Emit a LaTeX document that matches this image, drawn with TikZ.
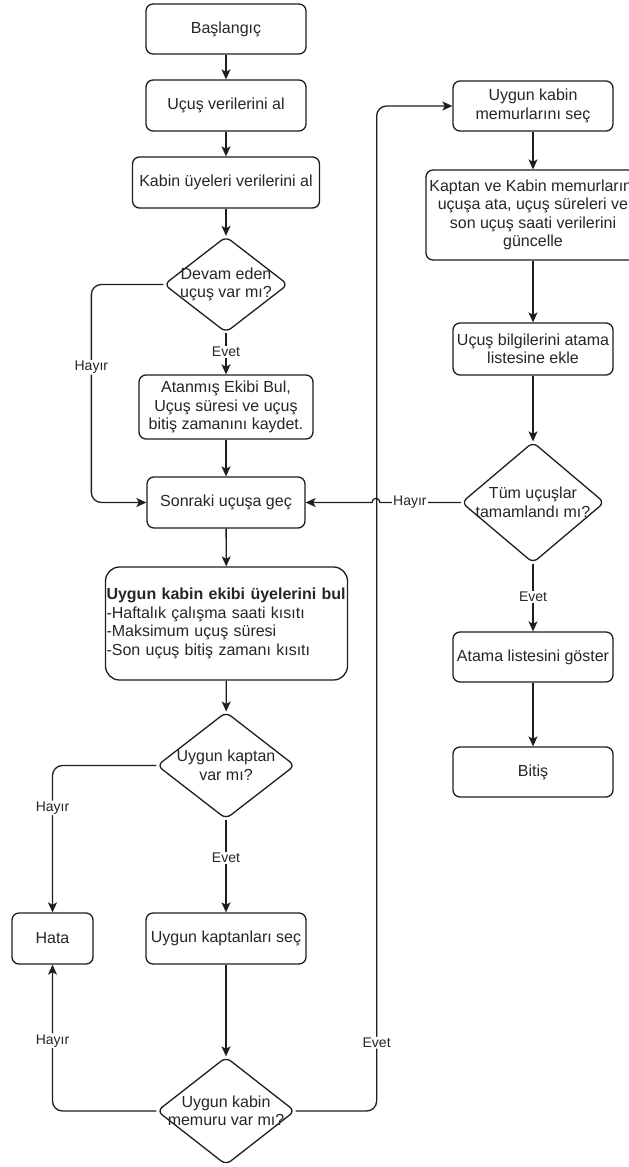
\documentclass[tikz,border=0pt]{standalone}
\usepackage{fontspec}
\setmainfont{Liberation Sans}
\usetikzlibrary{arrows.meta,shapes.geometric,calc}
\definecolor{ln}{HTML}{1E1E1E}
\definecolor{tx}{HTML}{262626}
\tikzset{
 box/.style={draw=ln, line width=1.3pt, rounded corners=7pt, inner sep=1pt, align=center, text=tx, font=\fontsize{16}{18.5}\selectfont},
 dia/.style={diamond, draw=ln, line width=1.3pt, rounded corners=6pt, inner sep=0pt},
 dtext/.style={align=center, text=tx, font=\fontsize{16}{18.5}\selectfont},
 conn/.style={draw=ln, line width=1.3pt, -{Stealth[length=10pt,width=9pt,inset=2.5pt]}},
 lbl/.style={fill=white, text=tx, font=\fontsize{14}{16}\selectfont, inner sep=1pt},
}
\begin{document}
\begin{tikzpicture}[x=1pt,y=-1pt]
\useasboundingbox (0,0) rectangle (629,1167);
\fill[white] (0,0) rectangle (629,1167);
\clip (0,0) rectangle (629,1167);
% left column
\node[box, minimum width=160pt, minimum height=50pt] (start) at (226,29) {Başlangıç};
\node[box, minimum width=160pt, minimum height=51pt] (s1) at (226,105.5) {Uçuş verilerini al};
\node[box, minimum width=187pt, minimum height=51pt] (s2) at (226,182.5) {Kabin üyeleri verilerini al};
\node[dia, minimum width=124pt, minimum height=96pt, label={[dtext]center:Devam eden\\uçuş var mı?}] (d1) at (226,284.5) {};
\node[box, minimum width=174pt, minimum height=64pt] (s3) at (226,407) {Atanmış Ekibi Bul,\\Uçuş süresi ve uçuş\\bitiş zamanını kaydet.};
\node[box, minimum width=158pt, minimum height=51pt] (s4) at (226,502.5) {Sonraki uçuşa geç};
\node[box, rounded corners=14pt, text width=240pt, align=left, minimum height=113pt] (s5) at (226.5,623.5) {\textbf{Uygun kabin ekibi üyelerini bul}\\-Haftalık çalışma saati kısıtı\\-Maksimum uçuş süresi\\-Son uçuş bitiş zamanı kısıtı};
\node[dia, minimum width=138pt, minimum height=107pt, label={[dtext]center:Uygun kaptan\\var mı?}] (d2) at (226,765.5) {};
\node[box, minimum width=160pt, minimum height=51pt] (s6) at (226,938.5) {Uygun kaptanları seç};
\node[box, minimum width=81pt, minimum height=51pt] (hata) at (52.5,938.5) {Hata};
\node[dia, minimum width=138pt, minimum height=108pt, label={[dtext]center:Uygun kabin\\memuru var mı?}] (d3) at (226,1111) {};
% right column
\node[box, minimum width=160pt, minimum height=50pt] (r1) at (533,106) {Uygun kabin\\memurlarını seç};
\node[box, minimum width=214pt, minimum height=90pt] (r2) at (533,215) {Kaptan ve Kabin memurlarını\\uçuşa ata, uçuş süreleri ve\\son uçuş saati verilerini\\güncelle};
\node[box, minimum width=160pt, minimum height=52pt] (r3) at (533,349) {Uçuş bilgilerini atama\\listesine ekle};
\node[dia, minimum width=143pt, minimum height=121pt, label={[dtext]center:Tüm uçuşlar\\tamamlandı mı?}] (d4) at (533,502.5) {};
\node[box, minimum width=160pt, minimum height=50pt] (r4) at (533,657) {Atama listesini göster};
\node[box, minimum width=160pt, minimum height=50pt] (r5) at (533,772) {Bitiş};
\coordinate (hop) at (376,502.5);
% connectors
\draw[conn] (start) -- (s1);
\draw[conn] (s1) -- (s2);
\draw[conn] (s2) -- (d1);
\draw[conn] (d1.south) -- node[lbl,pos=0.46]{Evet} (s3.north);
\draw[conn, rounded corners=10pt] (d1.west) -- ++(-72,0) |- node[lbl,pos=0.19]{Hayır} (s4.west);
\draw[conn] (s3) -- (s4);
\draw[conn] (s4) -- (s5);
\draw[conn] (s5) -- (d2);
\draw[conn, rounded corners=10pt] (d2.west) -| node[lbl,pos=0.644]{Hayır} (hata.north);
\draw[conn] (d2.south) -- node[lbl,pos=0.41]{Evet} (s6.north);
\draw[conn] (s6) -- (d3);
\draw[conn, rounded corners=10pt] (d3.west) -| node[lbl,pos=0.74]{Hayır} (hata.south);
\draw[conn, rounded corners=10pt] (d3.east) -- ++(81,0) |- node[lbl,pos=0.034]{Evet} (r1.west);
\draw[conn] (r1) -- (r2);
\draw[conn] (r2) -- (r3);
\draw[conn] (r3) -- (d4);
\draw[conn] (d4.south) -- node[lbl,pos=0.49]{Evet} (r4.north);
\draw[conn] (r4) -- (r5);
\draw[conn] (d4.west) -- node[lbl,pos=0.63]{Hayır} ($(hop)+(4,0)$) .. controls ($(hop)+(4,-5.5)$) and ($(hop)+(-4,-5.5)$) .. ($(hop)+(-4,0)$) -- (s4.east);
\end{tikzpicture}
\end{document}
